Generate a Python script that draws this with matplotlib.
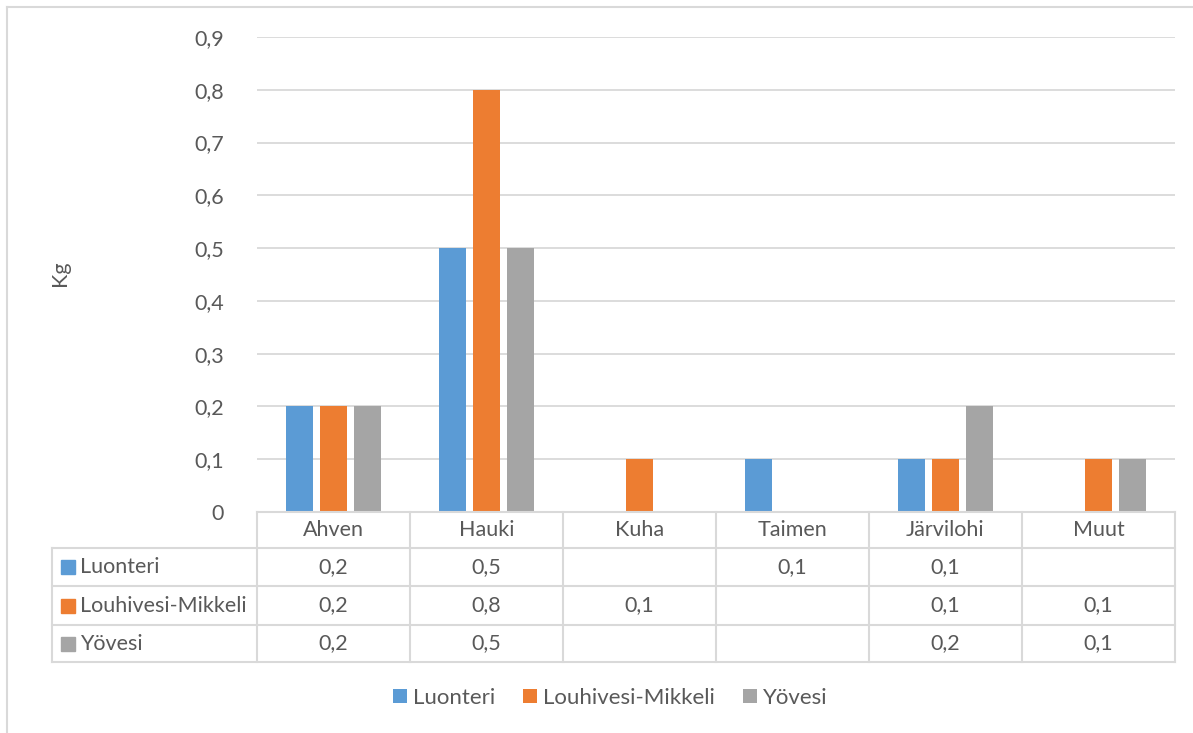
import matplotlib
matplotlib.use("Agg")
import matplotlib.pyplot as plt
from matplotlib.lines import Line2D
from matplotlib.patches import Patch, Rectangle
import numpy as np

categories = ["Ahven", "Hauki", "Kuha", "Taimen", "Järvilohi", "Muut"]
series_names = ["Luonteri", "Louhivesi-Mikkeli", "Yövesi"]
luonteri = [0.2, 0.5, None, 0.1, 0.1, None]
louhivesi = [0.2, 0.8, 0.1, None, 0.1, 0.1]
yovesi = [0.2, 0.5, None, None, 0.2, 0.1]
yticks = [0, 0.1, 0.2, 0.3, 0.4, 0.5, 0.6, 0.7, 0.8, 0.9]
ylabel = "Kg"

colors = ["#5B9BD5", "#ED7D31", "#A5A5A5"]
text_color = "#595959"
grid_color = "#D9D9D9"
FONT = "Lato"
FS = 15.5

W, H = 1193, 733
fig = plt.figure(figsize=(W / 100, H / 100), dpi=100)

def fx(px):
    return px / W

def fy(py):
    return 1 - py / H

# pixel layout
ax_left, ax_right = 257, 1175
ax_top, ax_bottom = 37, 512
ax = fig.add_axes([fx(ax_left), fy(ax_bottom), fx(ax_right - ax_left), fy(ax_top) - fy(ax_bottom)])

n = len(categories)
x = np.arange(n)
col_w_px = (ax_right - ax_left) / n
bar_w = 26.5 / col_w_px
offset = 33.8 / col_w_px
all_series = [luonteri, louhivesi, yovesi]
for i, (vals, c) in enumerate(zip(all_series, colors)):
    v = [0 if a is None else a for a in vals]
    ax.bar(x + (i - 1) * offset, v, width=bar_w, color=c, zorder=3)

ax.set_xlim(-0.5, n - 0.5)
ax.set_ylim(0, 0.9)
ax.set_yticks(yticks)
ax.set_yticklabels([("%g" % t).replace(".", ",") for t in yticks], fontfamily=FONT, fontsize=FS, color=text_color)
ax.tick_params(axis="y", length=0, pad=24)
ax.tick_params(axis="x", length=0, labelbottom=False)
ax.grid(axis="y", color=grid_color, linewidth=1.3, zorder=0)
for s in ["top", "right", "left", "bottom"]:
    ax.spines[s].set_visible(False)
fig.text(fx(60), fy(273), ylabel, rotation=90, ha="center", va="center", fontfamily=FONT, fontsize=FS, color=text_color)

# data table
row_y = [512, 548, 586, 625, 662]
tbl_left = 52
lw = 1.5

def hline(x0, x1, y):
    fig.add_artist(Line2D([fx(x0), fx(x1)], [fy(y), fy(y)], color=grid_color, linewidth=lw))

def vline(xp, y0, y1):
    fig.add_artist(Line2D([fx(xp), fx(xp)], [fy(y0), fy(y1)], color=grid_color, linewidth=lw))

hline(ax_left, ax_right, row_y[0])
for y in row_y[1:]:
    hline(tbl_left, ax_right, y)
vline(tbl_left, row_y[1], row_y[-1])
for k in range(n + 1):
    vline(ax_left + k * col_w_px, row_y[0], row_y[-1])

for j, cat in enumerate(categories):
    cx = ax_left + (j + 0.5) * col_w_px
    fig.text(fx(cx), fy((row_y[0] + row_y[1]) / 2), cat, ha="center", va="center",
             fontfamily=FONT, fontsize=FS, color=text_color)

for i, (name, vals, c) in enumerate(zip(series_names, all_series, colors)):
    cy = (row_y[i + 1] + row_y[i + 2]) / 2
    fig.add_artist(Rectangle((fx(61), fy(cy + 7)), fx(14), fy(cy - 7) - fy(cy + 7), color=c))
    fig.text(fx(80), fy(cy), name, ha="left", va="center", fontfamily=FONT, fontsize=FS, color=text_color)
    for j, v in enumerate(vals):
        if v is None:
            continue
        cx = ax_left + (j + 0.5) * col_w_px
        fig.text(fx(cx), fy(cy), ("%g" % v).replace(".", ","), ha="center", va="center",
                 fontfamily=FONT, fontsize=FS, color=text_color)

# legend
handles = [Patch(facecolor=c, edgecolor="none", label=nm) for c, nm in zip(colors, series_names)]
fig.legend(handles=handles, loc="center", bbox_to_anchor=(fx(610), fy(698)), ncol=3, frameon=False,
           prop={"family": FONT, "size": 16}, labelcolor=text_color, handlelength=0.63, handleheight=0.63,
           handletextpad=0.27, columnspacing=1.26)

# outer border
fig.add_artist(Line2D([fx(7), fx(7)], [fy(7), 0], color=grid_color, linewidth=1.5))
fig.add_artist(Line2D([fx(7), 1], [fy(7), fy(7)], color=grid_color, linewidth=1.5))

fig.savefig("out.png", dpi=100)
